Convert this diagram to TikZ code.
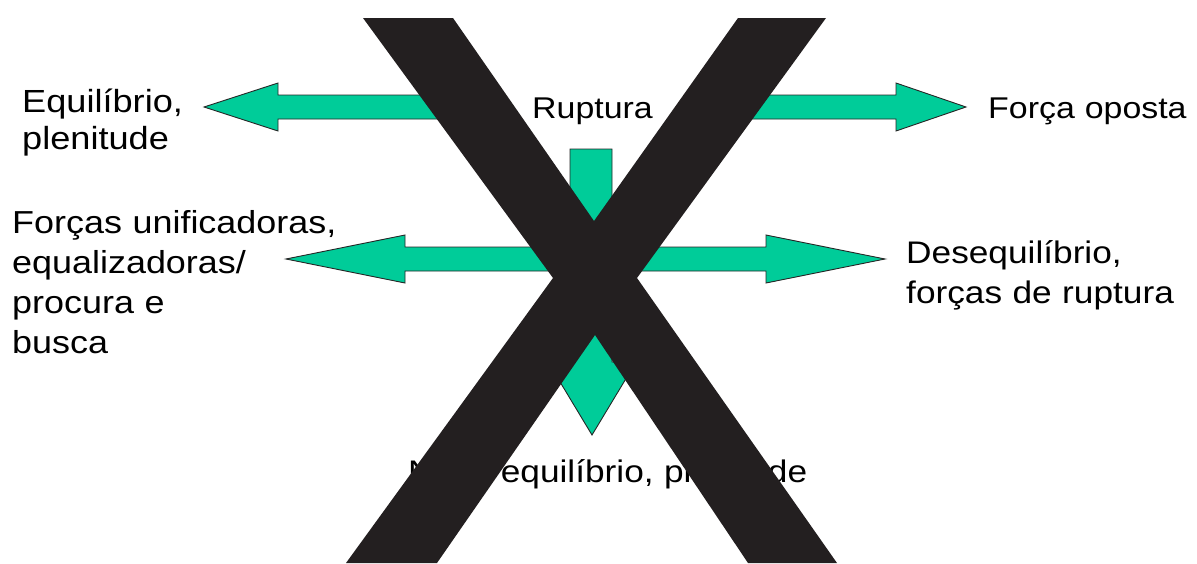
\documentclass[tikz,border=0pt]{standalone}
\usepackage{fontspec}
\setmainfont{Liberation Sans}[FakeStretch=1.13]
\definecolor{arrgreen}{RGB}{0,204,153}
\definecolor{xdark}{RGB}{35,31,32}
\tikzset{
  fatarrow/.style={fill=arrgreen, draw=black!85, line width=0.9pt, line join=miter},
  lbl/.style={inner sep=0pt, anchor=base west, text width=400pt, align=left},
  bigx/.style={fill=xdark, draw=none}
}
\begin{document}
\begin{tikzpicture}[x=1pt,y=-1pt]
\useasboundingbox (0,0) rectangle (1197,563);
% block arrows
\draw[fatarrow] (204,107) coordinate (tl) -- (278,83) -- (278,95) -- (480,95) -- (480,119) -- (278,119) -- (278,131) -- cycle;
\draw[fatarrow] (966,107) coordinate (tr) -- (896,83) -- (896,95) -- (720,95) -- (720,119) -- (896,119) -- (896,131) -- cycle;
\draw[fatarrow] (570,149) -- (612,149) -- (612,362) -- (636,362) -- (592,435) coordinate (bt) -- (548,362) -- (570,362) -- cycle;
\draw[fatarrow] (286,259) coordinate (ml) -- (405,235) -- (405,247) -- (766,247) -- (766,235) -- (885,259) coordinate (mr) -- (766,283) -- (766,271) -- (405,271) -- (405,283) -- cycle;
% labels
\node[lbl, font=\fontsize{32}{37}\selectfont] (equil) at (22,112) {Equilíbrio,\\plenitude};
\node[lbl, font=\fontsize{30}{36}\selectfont] (rupt) at (532,118) {Ruptura};
\node[lbl, font=\fontsize{30}{36}\selectfont] (oposta) at (988,118) {Força oposta};
\node[lbl, font=\fontsize{31.8}{40}\selectfont] (unif) at (12,233) {Forças unificadoras,\\equalizadoras/\\procura e\\busca};
\node[lbl, font=\fontsize{31.2}{40}\selectfont] (deseq) at (906,263) {Desequilíbrio,\\forças de ruptura};
\node[lbl, font=\fontsize{31.2}{38}\selectfont] (novo) at (408,482) {Novo equilíbrio, plenitude};
% big X on top
\fill[bigx] (363,18) -- (453,18) -- (594,221) -- (738,18) -- (826,18) -- (637,278) -- (837,563) -- (748,563) -- (595,335) -- (437,563) -- (346,563) -- (553,278) -- cycle;
\end{tikzpicture}
\end{document}
